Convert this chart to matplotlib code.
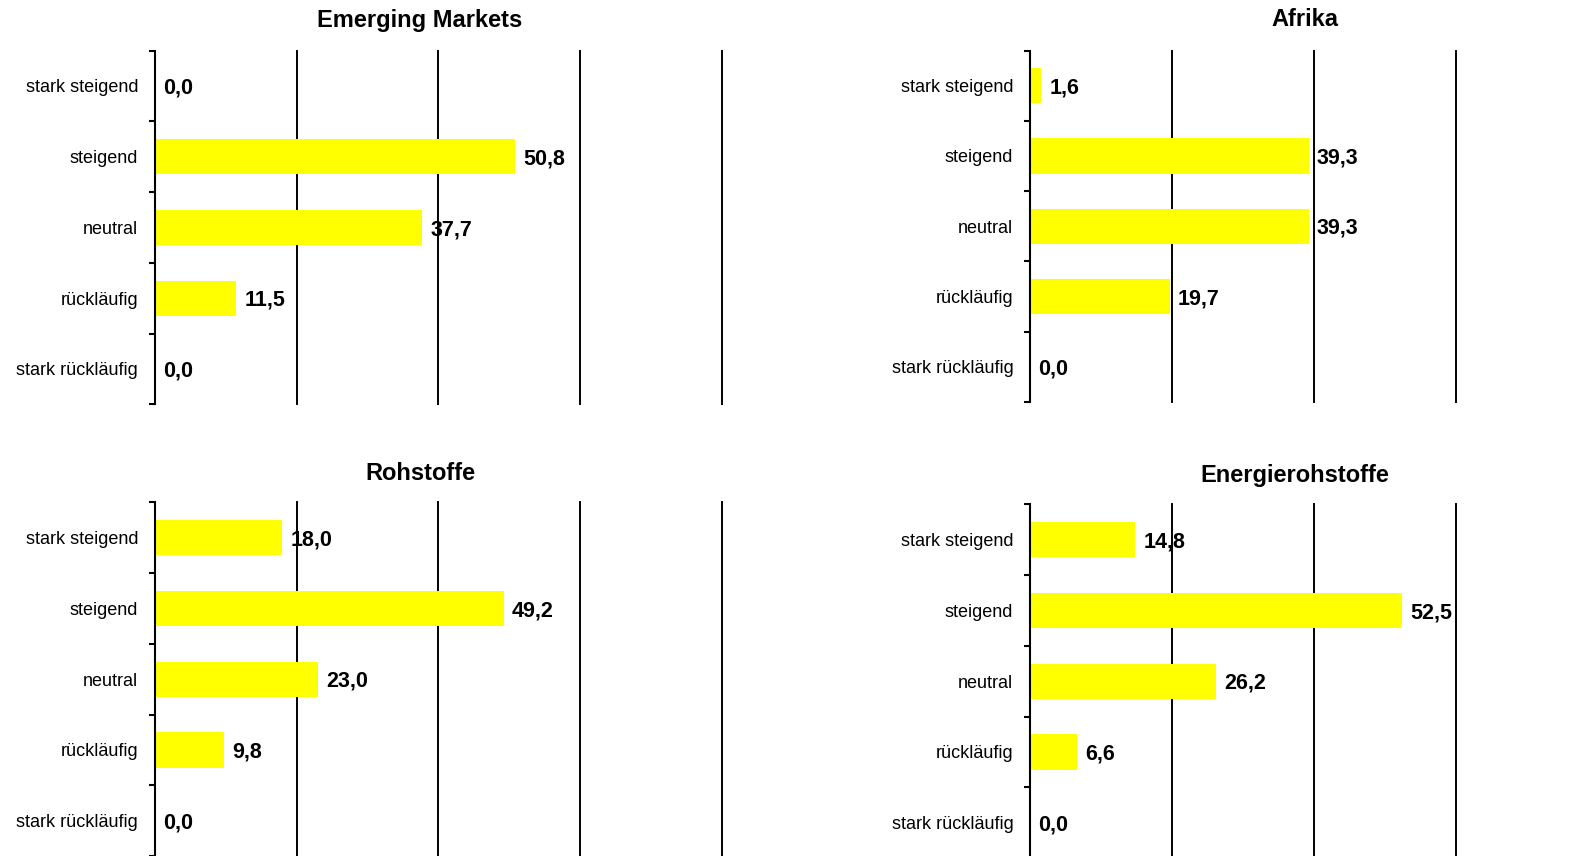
import numpy as np
import matplotlib
matplotlib.use('Agg')
import matplotlib.pyplot as plt

plt.rcParams['font.family'] = ['Liberation Sans', 'DejaVu Sans']

categories = ['stark steigend', 'steigend', 'neutral', 'rückläufig', 'stark rückläufig']

titles = ['Emerging Markets', 'Afrika', 'Rohstoffe', 'Energierohstoffe']
emerging_markets = [0.0, 50.8, 37.7, 11.5, 0.0]
afrika = [1.6, 39.3, 39.3, 19.7, 0.0]
rohstoffe = [18.0, 49.2, 23.0, 9.8, 0.0]
energierohstoffe = [14.8, 52.5, 26.2, 6.6, 0.0]
grid_vals = [20, 40, 60, 80]


def fmt(v):
    return f'{v:.1f}'.replace('.', ',')


def draw_panel(fig, rect, values, title, title_xy):
    ax = fig.add_axes(rect)
    ind = np.arange(len(categories))
    ax.barh(ind, values, height=0.5, color='#FFFF00', edgecolor='none', zorder=2)
    ax.set_xlim(0, 80)
    ax.set_ylim(len(categories) - 0.5, -0.5)

    ax.set_xticks(grid_vals)
    ax.tick_params(axis='x', length=0, labelbottom=False)
    ax.grid(axis='x', color='black', linewidth=1.4, zorder=1)
    for gl in ax.xaxis.get_gridlines():
        gl.set_clip_on(False)

    # ticks at the borders between categories, labels in the middle
    ax.set_yticks(np.arange(len(categories) + 1) - 0.5)
    ax.set_yticklabels([])
    ax.set_yticks(ind, minor=True)
    ax.set_yticklabels(categories, minor=True, fontsize=13)
    ax.tick_params(axis='y', which='major', direction='out', length=4, width=1.5)
    ax.tick_params(axis='y', which='minor', length=0, pad=12)

    for s in ['top', 'right', 'bottom']:
        ax.spines[s].set_visible(False)
    ax.spines['left'].set_linewidth(1.5)

    for i, v in enumerate(values):
        ax.annotate(fmt(v), (v, i), xytext=(6, -1.5), textcoords='offset points',
                    ha='left', va='center', fontsize=15.5, fontweight='bold',
                    zorder=3)

    fig.text(title_xy[0], title_xy[1], title, ha='center', va='center',
             fontsize=17, fontweight='bold')
    return ax


fig = plt.figure(figsize=(15.85, 8.56), dpi=100)

w = 0.358
draw_panel(fig, [0.0976, 0.5276, w, 0.4134], emerging_markets, titles[0],
           (419.5 / 1585, 1 - 20 / 856))
draw_panel(fig, [0.6498, 0.5304, w, 0.4106], afrika, titles[1],
           (1305 / 1585, 1 - 20 / 856))
draw_panel(fig, [0.0976, 0.0, w, 0.4131], rohstoffe, titles[2],
           (420.5 / 1585, 1 - 473 / 856))
draw_panel(fig, [0.6498, -0.0023, w, 0.413], energierohstoffe, titles[3],
           (1295 / 1585, 1 - 475 / 856))

plt.savefig('out.png', dpi=100)
